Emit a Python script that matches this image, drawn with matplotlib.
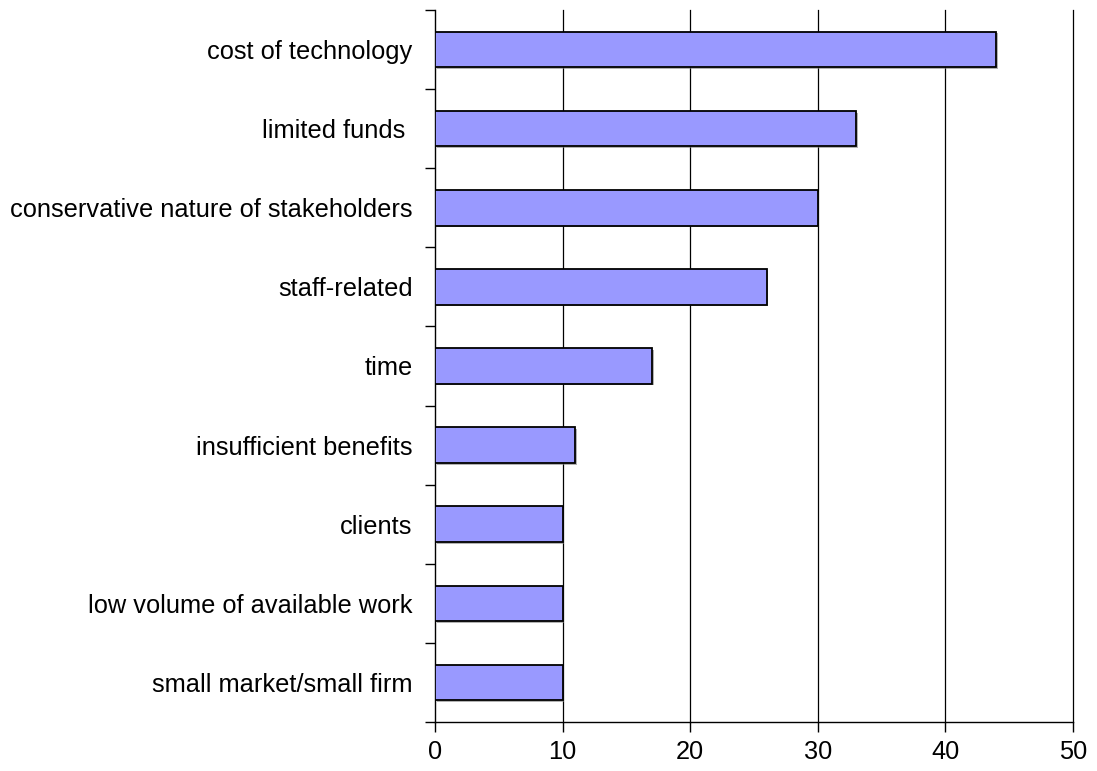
import matplotlib
import matplotlib.pyplot as plt
import matplotlib.patheffects as pe
import numpy as np

matplotlib.use("Agg")


class Const:
    FONTSIZE = 18.3
    BAR_FACE = '#9999FF'


# barriers, top to bottom
categories = [
    "cost of technology",
    "limited funds ",
    "conservative nature of stakeholders",
    "staff-related",
    "time",
    "insufficient benefits",
    "clients",
    "low volume of available work",
    "small market/small firm",
]
values = [44, 33, 30, 26, 17, 11, 10, 10, 10]
xticks = [0, 10, 20, 30, 40, 50]


def set_by_def():
    plt.rcParams['font.family'] = ['Liberation Sans', 'DejaVu Sans']
    plt.rcParams['font.size'] = Const.FONTSIZE


def main():
    set_by_def()
    fig = plt.figure(figsize=(10.97, 7.71), dpi=100)
    ax = fig.add_axes([0.3965, 0.0636, 0.5815, 0.9234])

    n = len(categories)
    y = np.arange(n)[::-1]  # first category on top
    bars = ax.barh(y, values, height=0.45, color=Const.BAR_FACE,
                   edgecolor='black', linewidth=1.3, zorder=3)
    for b in bars:
        b.set_path_effects([pe.SimplePatchShadow(offset=(1.2, -1.2), shadow_rgbFace='gray', alpha=0.6),
                            pe.Normal()])

    ax.set_xlim(0, 50)
    ax.set_ylim(-0.5, n - 0.5)
    ax.set_xticks(xticks)
    ax.set_xticklabels([str(t) for t in xticks])

    # gridlines at the major x ticks (except the axis itself)
    for t in xticks[1:]:
        ax.axvline(t, color='black', linewidth=0.9, zorder=1, clip_on=False)

    # category labels centered, tick marks at the boundaries
    ax.set_yticks(y)
    ax.set_yticklabels(categories)
    ax.tick_params(axis='y', which='major', length=0, pad=16)
    ax.set_yticks(np.arange(-0.5, n, 1.0), minor=True)
    ax.tick_params(axis='y', which='minor', length=7, width=1, direction='out')
    ax.tick_params(axis='x', length=7, width=1, direction='out', pad=6)

    for side in ('top', 'right'):
        ax.spines[side].set_visible(False)
    ax.spines['left'].set_linewidth(1)
    ax.spines['bottom'].set_linewidth(1)

    plt.savefig('out.png', dpi=100)


if __name__ == '__main__':
    main()
